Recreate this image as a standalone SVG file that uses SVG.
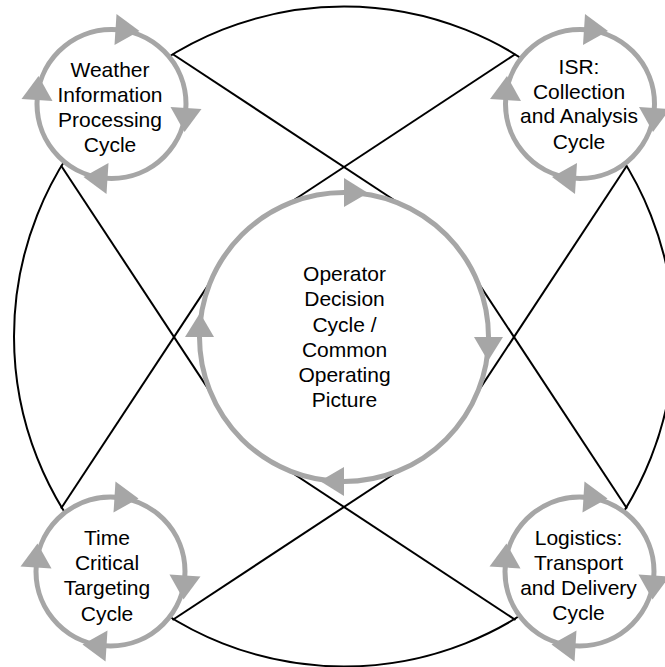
<svg xmlns="http://www.w3.org/2000/svg" xmlns:xlink="http://www.w3.org/1999/xlink" width="665" height="667" viewBox="0 0 665 667">
<style>
.conn{fill:none;stroke:#000;stroke-width:2}
.ring{fill:#fff;stroke:#a6a6a6;stroke-width:5}
.ah{fill:#a6a6a6}
.lbl{font-family:"Liberation Sans",Arial,sans-serif;font-size:21px;fill:#000;text-anchor:middle}
</style>
<defs>
<polygon id="sa" points="5,-90 3,-59 28,-73"/>
<polygon id="ca" points="0,-159 0,-130 24,-144"/>
</defs>
<rect width="665" height="667" fill="#fff"/>
<g id="connectors" class="conn">
<circle cx="344" cy="336.5" r="330"/>
<line x1="172.5" y1="54" x2="422.1" y2="218.5"/>
<line x1="515.5" y1="54" x2="265.9" y2="218.5"/>
<line x1="172.5" y1="620" x2="422.1" y2="455.5"/>
<line x1="515.5" y1="620" x2="265.9" y2="455.5"/>
<line x1="61" y1="165.5" x2="225.5" y2="415.1"/>
<line x1="61" y1="508.5" x2="225.5" y2="258.9"/>
<line x1="627" y1="165.5" x2="462.5" y2="415.1"/>
<line x1="627" y1="508.5" x2="462.5" y2="258.9"/>
</g>
<g id="weather">
<circle class="ring" cx="111.5" cy="104" r="74.5"/>
<g class="ah" transform="translate(111.5,104)">
<use xlink:href="#sa"/><use xlink:href="#sa" transform="rotate(90)"/><use xlink:href="#sa" transform="rotate(180)"/><use xlink:href="#sa" transform="rotate(270)"/>
</g>
<text class="lbl" x="110" y="77">Weather</text>
<text class="lbl" x="110" y="102">Information</text>
<text class="lbl" x="110" y="127">Processing</text>
<text class="lbl" x="110" y="152">Cycle</text>
</g>
<g id="isr">
<circle class="ring" cx="580" cy="104" r="74.5"/>
<g class="ah" transform="translate(580,104)">
<use xlink:href="#sa"/><use xlink:href="#sa" transform="rotate(90)"/><use xlink:href="#sa" transform="rotate(180)"/><use xlink:href="#sa" transform="rotate(270)"/>
</g>
<text class="lbl" x="579" y="73.5">ISR:</text>
<text class="lbl" x="579" y="98.5">Collection</text>
<text class="lbl" x="579" y="123">and Analysis</text>
<text class="lbl" x="579" y="148.5">Cycle</text>
</g>
<g id="targeting">
<circle class="ring" cx="110.5" cy="571.5" r="74.5"/>
<g class="ah" transform="translate(110.5,571.5)">
<use xlink:href="#sa"/><use xlink:href="#sa" transform="rotate(90)"/><use xlink:href="#sa" transform="rotate(180)"/><use xlink:href="#sa" transform="rotate(270)"/>
</g>
<text class="lbl" x="107" y="545">Time</text>
<text class="lbl" x="107" y="570">Critical</text>
<text class="lbl" x="107" y="595">Targeting</text>
<text class="lbl" x="107" y="620.5">Cycle</text>
</g>
<g id="logistics">
<circle class="ring" cx="579.5" cy="571.5" r="74.5"/>
<g class="ah" transform="translate(579.5,571.5)">
<use xlink:href="#sa"/><use xlink:href="#sa" transform="rotate(90)"/><use xlink:href="#sa" transform="rotate(180)"/><use xlink:href="#sa" transform="rotate(270)"/>
</g>
<text class="lbl" x="578.5" y="545">Logistics:</text>
<text class="lbl" x="578.5" y="570">Transport</text>
<text class="lbl" x="578.5" y="595">and Delivery</text>
<text class="lbl" x="578.5" y="620">Cycle</text>
</g>
<g id="operator">
<circle class="ring" cx="344" cy="337" r="144.5"/>
<g class="ah" transform="translate(344,337)">
<use xlink:href="#ca"/><use xlink:href="#ca" transform="rotate(90)"/><use xlink:href="#ca" transform="rotate(180)"/><use xlink:href="#ca" transform="rotate(270)"/>
</g>
<text class="lbl" x="344.5" y="281">Operator</text>
<text class="lbl" x="344.5" y="306">Decision</text>
<text class="lbl" x="344.5" y="331.5">Cycle /</text>
<text class="lbl" x="344.5" y="356.5">Common</text>
<text class="lbl" x="344.5" y="381.5">Operating</text>
<text class="lbl" x="344.5" y="406.5">Picture</text>
</g>
</svg>
